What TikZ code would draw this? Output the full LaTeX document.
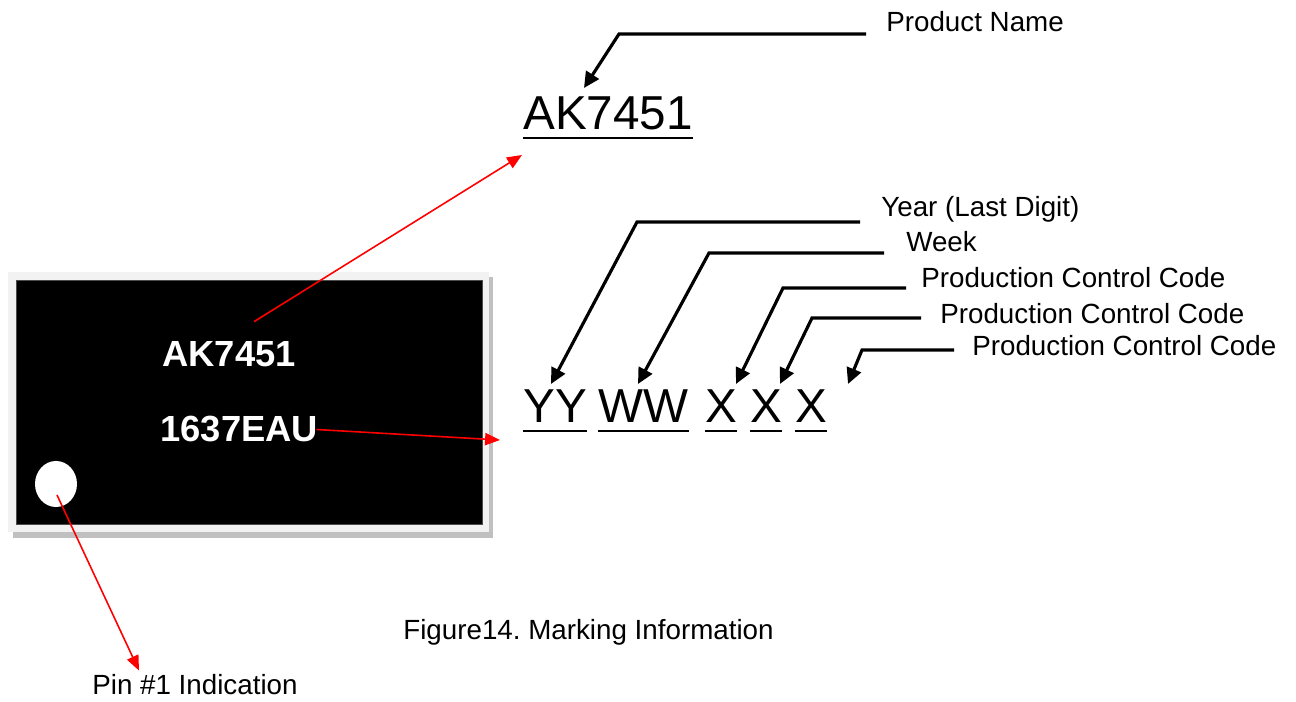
\documentclass[tikz,border=0pt]{standalone}
\usepackage{fontspec}
\setmainfont{Liberation Sans}
\usepackage{xcolor}
\usetikzlibrary{arrows.meta,calc,shapes.geometric}
\frenchspacing

\definecolor{framegray}{HTML}{F2F2F2}
\definecolor{shadowgray}{HTML}{C0C0C0}

\begin{document}
\begin{tikzpicture}[x=0.02cm, y=-0.02cm,
                    txt/.style={inner sep=0pt, anchor=base west, font=\fontsize{15.8}{19}\selectfont},
                    bigtxt/.style={inner sep=0pt, anchor=base west, font=\fontsize{27.1}{32}\selectfont},
                    chiptxt/.style={inner sep=0pt, anchor=base west, text=white, font=\bfseries\fontsize{20.7}{24}\selectfont},
                    leader/.style={line width=1.8pt, black, -{Triangle[length=9pt,width=8.5pt]}},
                    redarrow/.style={line width=0.9pt, red, -{Triangle[length=8.5pt,width=7pt]}},
                    uline/.style={line width=1.7pt, black},
                   ]

\useasboundingbox (0,0) rectangle (1296,702);

% package
\fill[shadowgray] (13,277) rectangle (493,538);
\fill[framegray] (8,272) rectangle (489,532);
\draw[fill=black, draw=black!70] (16,280) rectangle (482,524);
\node[ellipse, fill=white, inner sep=0pt, minimum width=42*0.02cm, minimum height=46*0.02cm] (pin) at (56,484) {};

\node[chiptxt] (chipname) at (162,367) {AK7451};
\node[chiptxt] (chipcode) at (160,442) {1637EAU};

% marking
\node[bigtxt] (name) at (523,130) {AK7451};
\node[bigtxt] (yy) at (523,423) {YY};
\node[bigtxt] (ww) at (598,423) {WW};
\node[bigtxt] (xa) at (705,423) {X};
\node[bigtxt] (xb) at (750,423) {X};
\node[bigtxt] (xc) at (795,423) {X};

\foreach \n in {name,yy,ww,xa,xb,xc}
  \draw[uline] ($(\n.base west)+(0,8)$) -- ($(\n.base east)+(0,8)$);

% labels
\node[txt] (pname) at (886,32) {Product Name};
\node[txt] (year) at (881,217) {Year (Last Digit)};
\node[txt] (week) at (906,252) {Week};
\node[txt] (pcca) at (921,288) {Production Control Code};
\node[txt] (pccb) at (940,324) {Production Control Code};
\node[txt] (pccc) at (972,356) {Production Control Code};
\node[txt] (pinlbl) at (92,695) {Pin \#1 Indication};
\node[txt] (caption) at (403,640) {Figure14. Marking Information};

% leaders
\draw[leader] ($(pname.base west)+(-20,2)$) -- (619,34) -- (584,88);
\draw[leader] ($(year.base west)+(-21,5)$) -- (637,222) -- (551,384);
\draw[leader] ($(week.base west)+(-22,1)$) -- (709,253) -- (638,384);
\draw[leader] ($(pcca.base west)+(-15,0)$) -- (783,288) -- (736,384);
\draw[leader] ($(pccb.base west)+(-19,-6)$) -- (812,318) -- (780,384);
\draw[leader] ($(pccc.base west)+(-18,-6)$) -- (862,350) -- (848,384);

% red arrows
\draw[redarrow] (chipname.north) ++(25,-20) coordinate (c1) -- ($(name.base west)+(-1,25)$);
\draw[redarrow] ($(chipcode.east)+(-2,0)$) -- ($(yy.base west)+(-23,17)$);
\draw[redarrow] ($(pin.center)+(1,11)$) -- ($(pinlbl.north west)+(47,-4)$);

\end{tikzpicture}
\end{document}
